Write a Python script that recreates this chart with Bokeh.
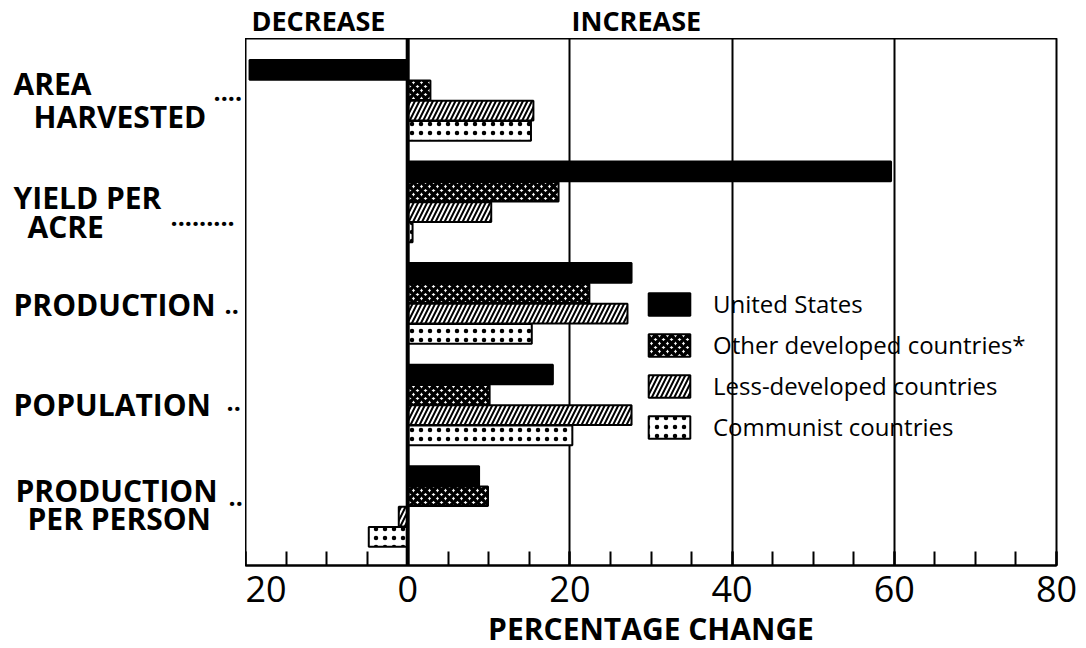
from bokeh.plotting import figure
from bokeh.layouts import column, row
from bokeh.models import Range1d, FixedTicker, Span, Legend, LegendItem, ColumnDataSource
from bokeh.core.properties import value
from bokeh.embed import file_html
from bokeh.resources import INLINE

# ---------------- data ----------------
categories = ["AREA HARVESTED", "YIELD PER ACRE", "PRODUCTION", "POPULATION", "PRODUCTION PER PERSON"]
series_names = ["United States", "Other developed countries*", "Less-developed countries", "Communist countries"]
united_states = [-19.5, 59.6, 27.6, 17.9, 8.8]
other_developed = [2.8, 18.6, 22.4, 10.1, 9.9]
less_developed = [15.5, 10.3, 27.1, 27.6, -1.1]
communist = [15.2, 0.6, 15.3, 20.3, -4.8]
x_ticks = [-20, 0, 20, 40, 60, 80]
x_tick_labels = ["20", "0", "20", "40", "60", "80"]
minor_ticks = list(range(-20, 81, 5))
side_labels = ["DECREASE", "INCREASE"]
x_title = "PERCENTAGE CHANGE"

# ---------------- layout ----------------
TOTAL_W = 1080
TOP_H = 38
LEFT_W = 245
FRAME_W, FRAME_H = 811, 527
FRAME_TOP = 38
XMIN, XMAX = -20, 80
YSPAN = 25.96
FIRST = 1.55
FONT = "Open Sans"
PX_PER_SLOT = FRAME_H / YSPAN


def ydata(py):
    return (py - FRAME_TOP) / PX_PER_SLOT


# ---- top strip: DECREASE / INCREASE ----
top = figure(width=TOTAL_W, height=TOP_H, x_range=Range1d(0, TOTAL_W), y_range=Range1d(TOP_H, 0),
             output_backend="svg", toolbar_location=None,
             x_axis_location=None, y_axis_location=None, min_border=0)
top.grid.visible = False
top.outline_line_color = None
top.text(x=[251, 571], y=[19.5, 19.5], text=side_labels, text_font=value(FONT),
         text_font_style="bold", text_font_size="27px", text_align="left",
         text_baseline="middle", text_color="black")

# ---- main plot ----
p = figure(frame_width=FRAME_W, frame_height=FRAME_H,
           x_range=Range1d(XMIN, XMAX), y_range=Range1d(YSPAN, 0),
           output_backend="svg", toolbar_location=None, y_axis_location=None,
           min_border_left=0, min_border_top=0, min_border_right=24, min_border_bottom=0)
p.background_fill_color = "white"
p.border_fill_color = "white"
p.outline_line_color = "black"
p.outline_line_width = 2
p.ygrid.visible = False
p.xgrid.ticker = FixedTicker(ticks=[20, 40, 60])
p.xgrid.grid_line_color = "black"
p.xgrid.grid_line_width = 2

ax = p.xaxis[0]
ax.ticker = FixedTicker(ticks=x_ticks, minor_ticks=minor_ticks)
ax.major_label_overrides = {t: l for t, l in zip(x_ticks, x_tick_labels)}
ax.major_label_text_font = FONT
ax.major_label_text_font_size = "36px"
ax.major_label_text_color = "black"
ax.major_label_standoff = 10
ax.major_tick_in = 14
ax.major_tick_out = 0
ax.minor_tick_in = 14
ax.minor_tick_out = 0
ax.major_tick_line_width = 2
ax.minor_tick_line_width = 2
ax.major_tick_line_color = "black"
ax.minor_tick_line_color = "black"
ax.axis_line_width = 2
ax.axis_line_color = "black"
ax.axis_label = x_title
ax.axis_label_text_font = FONT
ax.axis_label_text_font_style = "bold"
ax.axis_label_text_font_size = "30px"
ax.axis_label_text_color = "black"
ax.axis_label_standoff = 3

styles = [
    dict(fill_color="black"),
    dict(fill_color="white", hatch_pattern="diagonal_cross", hatch_color="black",
         hatch_scale=8, hatch_weight=3.5),
    dict(fill_color="white", hatch_pattern="right_diagonal_line", hatch_color="black",
         hatch_scale=9, hatch_weight=2),
    dict(fill_color="white", hatch_pattern="dot", hatch_color="black",
         hatch_scale=9, hatch_weight=2),
]

all_values = [united_states, other_developed, less_developed, communist]
renderers = []
for j, (vals, st) in enumerate(zip(all_values, styles)):
    ys = [FIRST + 5 * g + j for g in range(len(categories))]
    src = ColumnDataSource(dict(y=ys, right=vals, left=[0] * len(vals)))
    r = p.hbar(y="y", left="left", right="right", height=0.97, source=src,
               line_color="black", line_width=2, **st)
    renderers.append(r)

p.add_layout(Span(location=0, dimension="height", line_color="black", line_width=4))

legend = Legend(items=[LegendItem(label=n, renderers=[r]) for n, r in zip(series_names, renderers)],
                location=(398, 122), glyph_width=52, glyph_height=28, spacing=8,
                label_standoff=18, label_text_font=FONT, label_text_font_size="24px",
                label_text_color="black", padding=0, margin=0,
                background_fill_alpha=0, border_line_color=None)
p.add_layout(legend)

# ---- left strip: category labels (shares the main y scale) ----
left = figure(frame_width=LEFT_W, frame_height=FRAME_H, x_range=Range1d(0, LEFT_W),
              y_range=p.y_range, output_backend="svg", toolbar_location=None,
              x_axis_location=None, y_axis_location=None,
              min_border_left=0, min_border_right=0, min_border_top=0, min_border_bottom=0)
left.grid.visible = False
left.outline_line_color = None

cat_lines = [
    ("AREA", 13, 83), ("HARVESTED", 33, 116),
    ("YIELD PER", 13, 197), ("ACRE", 27, 226),
    ("PRODUCTION", 13, 304),
    ("POPULATION", 13, 404),
    ("PRODUCTION", 15, 490), ("PER PERSON", 27, 518),
]
left.text(x=[c[1] for c in cat_lines], y=[ydata(c[2]) for c in cat_lines],
          text=[c[0] for c in cat_lines], text_font=value(FONT), text_font_style="bold",
          text_font_size="30px", text_align="left", text_baseline="middle",
          text_color="black")
leaders = [("....", 213, 91), (".........", 170, 216), ("..", 224, 304),
           ("..", 226, 401), ("..", 228, 496)]
left.text(x=[c[1] for c in leaders], y=[ydata(c[2]) for c in leaders],
          text=[c[0] for c in leaders], text_font=value(FONT), text_font_style="bold",
          text_font_size="25px", text_align="left", text_baseline="alphabetic",
          text_color="black")

layout = column(top, row(left, p, spacing=0), spacing=0)

open("out.html", "w").write(file_html(layout, INLINE))
